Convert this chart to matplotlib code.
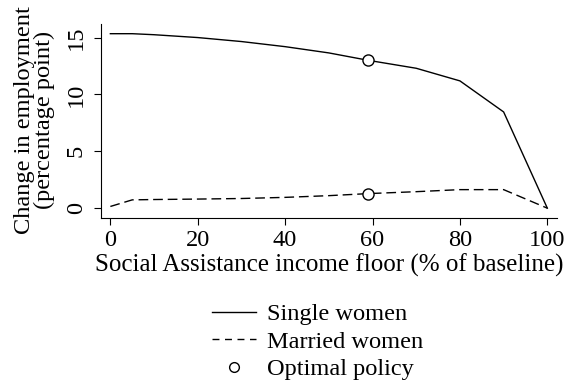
import numpy as np
import matplotlib
matplotlib.use("Agg")
import matplotlib.pyplot as plt
from matplotlib.lines import Line2D

plt.rcParams['font.family'] = ['Liberation Serif', 'DejaVu Serif']

# income floor as % of baseline
floor = [0, 5, 10, 20, 30, 40, 50, 59, 70, 80, 90, 100]
single = [15.34, 15.34, 15.25, 15.0, 14.65, 14.2, 13.65, 13.0, 12.3, 11.19, 8.46, 0.0]
married = [0.15, 0.73, 0.76, 0.8, 0.85, 0.95, 1.1, 1.28, 1.45, 1.63, 1.63, 0.0]

opt_floor = 59
opt_single = 13.0
opt_married = 1.28

fs = 17.6

fig = plt.figure(figsize=(5.66, 3.92), dpi=100)
ax = fig.add_axes([0.178, 0.444, 0.806, 0.495])

ax.plot(floor, single, color='black', lw=1.0, ls='-')
ax.plot(floor, married, color='black', lw=1.0, ls=(0, (7, 3.5)))
ax.plot([opt_floor, opt_floor], [opt_single, opt_married], 'o', ms=8,
        mfc='white', mec='black', mew=1.0, zorder=5)

ax.set_xlim(-2.2, 102.2)
ax.set_ylim(-0.86, 16.2)
ax.set_xticks([0, 20, 40, 60, 80, 100])
ax.set_yticks([0, 5, 10, 15])
ax.tick_params(axis='both', direction='out', length=5, width=0.8, labelsize=fs)
ax.tick_params(axis='y', pad=5)
for lab in ax.get_yticklabels():
    lab.set_rotation(90)
    lab.set_va('center')
ax.spines['top'].set_visible(False)
ax.spines['right'].set_visible(False)
ax.spines['left'].set_linewidth(0.8)
ax.spines['bottom'].set_linewidth(0.8)

ax.set_xlabel("Social Assistance income floor (% of baseline)", fontsize=18, labelpad=2)
ax.set_ylabel("Change in employment\n(percentage point)", fontsize=17.6,
              linespacing=0.95)
ax.yaxis.set_label_coords(-0.100, 0.505)

handles = [
    Line2D([], [], color='black', lw=1.0, ls='-'),
    Line2D([], [], color='black', lw=1.0, ls=(0, (5, 4))),
    Line2D([], [], ls='none', marker='o', ms=7, mfc='white', mec='black'),
]
fig.legend(handles, ["Single women", "Married women", "Optimal policy"],
           loc='center', bbox_to_anchor=(0.561, 0.128), frameon=False,
           fontsize=fs, handlelength=1.8, labelspacing=0.22, handletextpad=0.42)

fig.savefig("out.png", dpi=100)
